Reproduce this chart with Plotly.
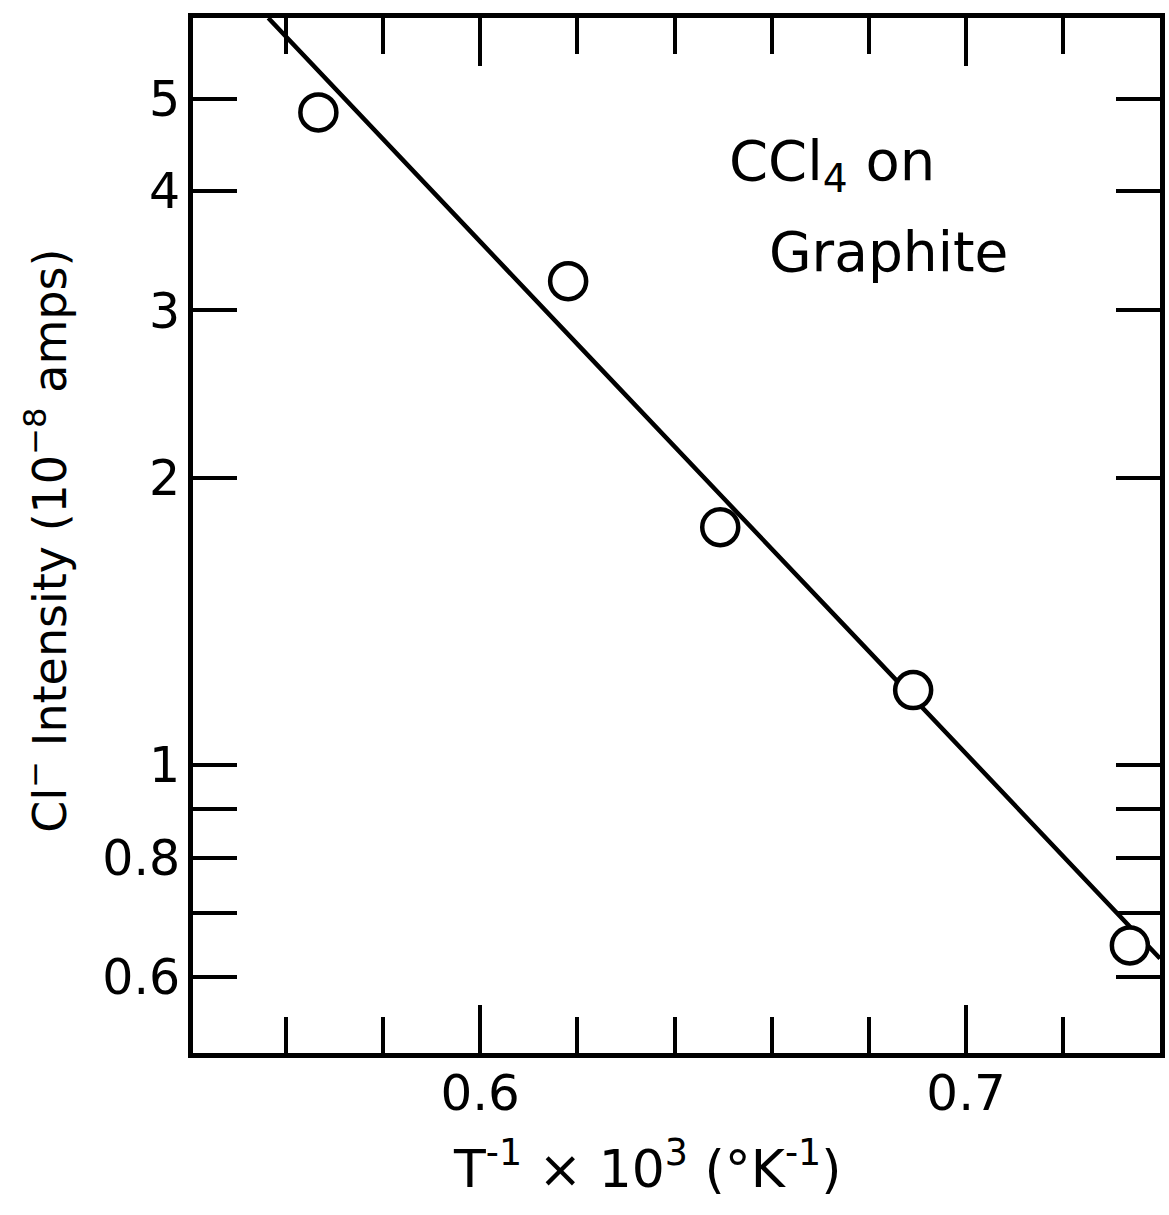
import plotly.graph_objects as go

# Data points (T^-1 x 10^3, Cl- intensity in 1e-8 amps)
inv_T = [0.5667, 0.6181, 0.6494, 0.6891, 0.7337]
intensity = [4.84, 3.22, 1.777, 1.199, 0.647]

# Fitted line drawn through the data
fit_x = [0.5564, 0.6, 0.65, 0.7, 0.7399]
fit_y = [6.08, 3.542, 1.908, 1.028, 0.627]

x_major = [0.6, 0.7]
x_minor = [0.56, 0.58, 0.62, 0.64, 0.66, 0.68, 0.72]
y_major = [0.6, 0.8, 1, 2, 3, 4, 5]
y_labels = ["0.6", "0.8", "1", "2", "3", "4", "5"]
y_minor = [0.7, 0.9]

FONT = "DejaVu Sans"

fig = go.Figure()
fig.add_trace(go.Scatter(x=fit_x, y=fit_y, mode="lines",
                         line=dict(color="black", width=4.5, shape="spline", smoothing=0.8),
                         showlegend=False))
fig.add_trace(go.Scatter(x=inv_T, y=intensity, mode="markers",
                         marker=dict(symbol="circle", size=36, color="white",
                                     line=dict(color="black", width=4.5)),
                         showlegend=False, cliponaxis=False))

axis_common = dict(showline=True, linecolor="black", linewidth=5, mirror="allticks",
                   ticks="inside", tickcolor="black", tickwidth=4,
                   showgrid=False, zeroline=False)

fig.update_xaxes(range=[0.5409, 0.7399], tickvals=x_major, ticktext=["0.6", "0.7"],
                 ticklen=48, ticklabelstandoff=-8,
                 minor=dict(tickvals=x_minor, ticks="inside", ticklen=36,
                            tickwidth=4, tickcolor="black"),
                 tickfont=dict(family=FONT, size=50, color="black"),
                 **axis_common)
fig.update_yaxes(type="log", range=[-0.3019, 0.7839], tickvals=y_major, ticktext=y_labels,
                 ticklen=44, ticklabelstandoff=-2,
                 minor=dict(tickvals=y_minor, ticks="inside", ticklen=44,
                            tickwidth=4, tickcolor="black"),
                 tickfont=dict(family=FONT, size=49, color="black"),
                 **axis_common)

# Axis titles
fig.add_annotation(x=0.4705, y=-0.108, xref="paper", yref="paper",
                   text="T<sup>-1</sup> × 10<sup>3</sup> (°K<sup>-1</sup>)",
                   showarrow=False, xanchor="center", yanchor="middle",
                   font=dict(family=FONT, size=52, color="black"))
fig.add_annotation(x=-0.152, y=0.495, xref="paper", yref="paper",
                   text="Cl<sup>−</sup> Intensity (10<sup>−8</sup> amps)", textangle=-90,
                   showarrow=False, xanchor="center", yanchor="middle",
                   font=dict(family=FONT, size=46, color="black"))

fig.add_annotation(x=0.6508, y=0.63, xref="x", yref="y", text="CCl<sub>4</sub> on",
                   showarrow=False, xanchor="left", yanchor="middle",
                   font=dict(family=FONT, size=56, color="black"))
fig.add_annotation(x=0.6591, y=0.538, xref="x", yref="y", text="Graphite",
                   showarrow=False, xanchor="left", yanchor="middle",
                   font=dict(family=FONT, size=55, color="black"))

fig.update_layout(width=1169, height=1215, plot_bgcolor="white", paper_bgcolor="white",
                  margin=dict(l=193, r=9, t=18, b=162, autoexpand=False))

fig.write_html("out.html")
